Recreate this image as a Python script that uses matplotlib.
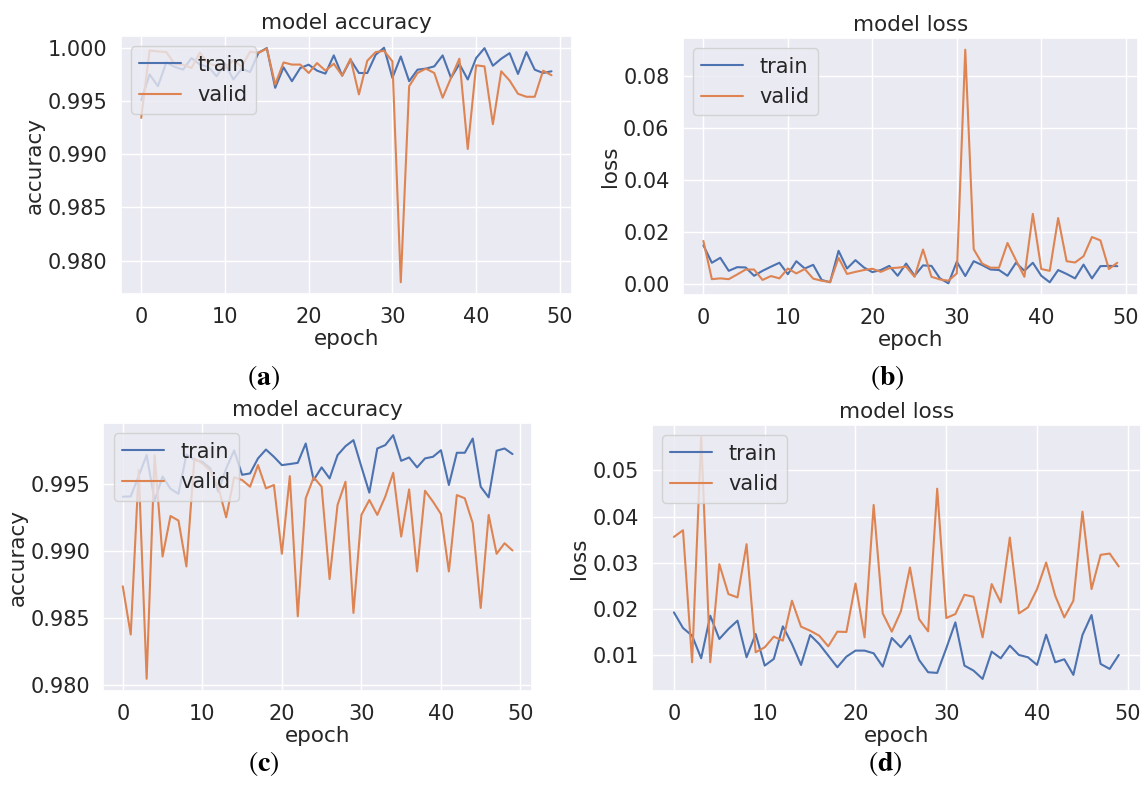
import numpy as np
import matplotlib
matplotlib.use("Agg")
import matplotlib.pyplot as plt
import seaborn as sns

# ---------------- data ----------------
epochs = list(range(50))

acc_a_train = [0.99505, 0.99747, 0.99638, 0.99861, 0.99818, 0.99793, 0.99901, 0.99840, 0.99820, 0.99730,
               0.99850, 0.99700, 0.99800, 0.99770, 0.99950, 0.99995, 0.99622, 0.99814, 0.99684, 0.99808,
               0.99839, 0.99783, 0.99755, 0.99926, 0.99736, 0.99885, 0.99761, 0.99761, 0.99932, 0.99998,
               0.99715, 0.99916, 0.99684, 0.99792, 0.99802, 0.99823, 0.99926, 0.99715, 0.99845, 0.99700,
               0.99901, 0.99994, 0.99829, 0.99895, 0.99947, 0.99752, 0.99957, 0.99792, 0.99761, 0.99777]
acc_a_valid = [0.99340, 0.99972, 0.99963, 0.99957, 0.99845, 0.99840, 0.99808, 0.99950, 0.99850, 0.99830,
               0.99810, 0.99880, 0.99820, 0.99960, 0.99950, 0.99990, 0.99653, 0.99860, 0.99840, 0.99840,
               0.99761, 0.99854, 0.99783, 0.99848, 0.99736, 0.99895, 0.99560, 0.99876, 0.99957, 0.99969,
               0.99870, 0.97798, 0.99637, 0.99761, 0.99802, 0.99761, 0.99529, 0.99715, 0.99895, 0.99048,
               0.99833, 0.99823, 0.99281, 0.99777, 0.99690, 0.99566, 0.99538, 0.99538, 0.99783, 0.99740]

loss_b_train = [0.0150, 0.0083, 0.0102, 0.0052, 0.0066, 0.0065, 0.0033, 0.0052, 0.0068, 0.0083,
                0.0039, 0.0089, 0.0061, 0.0075, 0.0017, 0.0008, 0.0129, 0.0061, 0.0093, 0.0065,
                0.0047, 0.0055, 0.0071, 0.0033, 0.0080, 0.0033, 0.0073, 0.0071, 0.0023, 0.0004,
                0.0087, 0.0032, 0.0089, 0.0074, 0.0057, 0.0055, 0.0033, 0.0083, 0.0052, 0.0083,
                0.0033, 0.0008, 0.0055, 0.0040, 0.0023, 0.0076, 0.0023, 0.0070, 0.0071, 0.0070]
loss_b_valid = [0.0167, 0.0020, 0.0023, 0.0020, 0.0038, 0.0057, 0.0057, 0.0017, 0.0032, 0.0023,
                0.0061, 0.0042, 0.0059, 0.0022, 0.0014, 0.0009, 0.0102, 0.0040, 0.0048, 0.0055,
                0.0060, 0.0048, 0.0062, 0.0064, 0.0068, 0.0029, 0.0134, 0.0029, 0.0019, 0.0014,
                0.0042, 0.0902, 0.0135, 0.0080, 0.0064, 0.0064, 0.0159, 0.0093, 0.0029, 0.0271,
                0.0059, 0.0052, 0.0255, 0.0089, 0.0084, 0.0108, 0.0182, 0.0169, 0.0059, 0.0083]

acc_c_train = [0.99406, 0.99408, 0.99560, 0.99716, 0.99375, 0.99556, 0.99465, 0.99427, 0.99720, 0.99680,
               0.99666, 0.99616, 0.99443, 0.99616, 0.99750, 0.99569, 0.99579, 0.99691, 0.99757, 0.99703,
               0.99641, 0.99649, 0.99658, 0.99802, 0.99530, 0.99624, 0.99542, 0.99715, 0.99782, 0.99827,
               0.99629, 0.99436, 0.99765, 0.99790, 0.99864, 0.99673, 0.99698, 0.99624, 0.99691, 0.99703,
               0.99752, 0.99493, 0.99733, 0.99733, 0.99839, 0.99480, 0.99401, 0.99748, 0.99765, 0.99723]
acc_c_valid = [0.98738, 0.98379, 0.99604, 0.98049, 0.99715, 0.98960, 0.99262, 0.99228, 0.98886, 0.99690,
               0.99653, 0.99600, 0.99480, 0.99252, 0.99550, 0.99530, 0.99480, 0.99641, 0.99468, 0.99493,
               0.98980, 0.99559, 0.98515, 0.99394, 0.99550, 0.99480, 0.98792, 0.99344, 0.99517, 0.98540,
               0.99270, 0.99381, 0.99270, 0.99406, 0.99584, 0.99109, 0.99460, 0.98849, 0.99450, 0.99369,
               0.99277, 0.98849, 0.99418, 0.99394, 0.99208, 0.98577, 0.99270, 0.98980, 0.99059, 0.99005]

loss_d_train = [0.01928, 0.01590, 0.01424, 0.00935, 0.01856, 0.01353, 0.01568, 0.01748, 0.00957, 0.01460,
                0.00777, 0.00921, 0.01626, 0.01245, 0.00791, 0.01439, 0.01245, 0.00993, 0.00741, 0.00971,
                0.01101, 0.01101, 0.01043, 0.00755, 0.01374, 0.01173, 0.01424, 0.00899, 0.00633, 0.00619,
                0.01151, 0.01712, 0.00777, 0.00669, 0.00489, 0.01079, 0.00935, 0.01209, 0.01007, 0.00957,
                0.00791, 0.01446, 0.00849, 0.00914, 0.00576, 0.01439, 0.01871, 0.00813, 0.00705, 0.01007]
loss_d_valid = [0.03561, 0.03705, 0.00849, 0.05720, 0.00849, 0.02971, 0.02324, 0.02252, 0.03403, 0.01065,
                0.01173, 0.01403, 0.01317, 0.02180, 0.01619, 0.01532, 0.01424, 0.01194, 0.01511, 0.01504,
                0.02554, 0.01388, 0.04252, 0.01906, 0.01511, 0.01950, 0.02899, 0.01784, 0.01518, 0.04604,
                0.01806, 0.01892, 0.02309, 0.02266, 0.01388, 0.02540, 0.02144, 0.03547, 0.01906, 0.02036,
                0.02432, 0.03007, 0.02288, 0.01820, 0.02180, 0.04108, 0.02432, 0.03173, 0.03201, 0.02921]

series_labels = ["train", "valid"]
captions = ["a", "b", "c", "d"]

# ---------------- style ----------------
sns.set_theme(style="darkgrid", palette="deep")
plt.rcParams["font.family"] = ["DejaVu Sans"]
plt.rcParams["mathtext.fontset"] = "stix"
FS = 15
TFS = 15.5

fig = plt.figure(figsize=(11.42, 7.92), dpi=100)
W, H = 1142.0, 792.0


def axes_px(left, right, top, bottom):
    return fig.add_axes([left / W, 1 - bottom / H, (right - left) / W, (bottom - top) / H])


panels = [
    (axes_px(120.7, 572, 36, 294), acc_a_train, acc_a_valid, "model accuracy", "accuracy"),
    (axes_px(682.7, 1138, 38, 295), loss_b_train, loss_b_valid, "model loss", "loss"),
    (axes_px(103.3, 532, 423, 691), acc_c_train, acc_c_valid, "model accuracy", "accuracy"),
    (axes_px(651.7, 1141, 425, 691), loss_d_train, loss_d_valid, "model loss", "loss"),
]

blue, orange = sns.color_palette("deep")[0], sns.color_palette("deep")[1]

for ax, tr, va, title, ylab in panels:
    ax.plot(epochs, tr, color=blue, lw=1.5, label=series_labels[0])
    ax.plot(epochs, va, color=orange, lw=1.5, label=series_labels[1])
    ax.set_title(title, fontsize=TFS, color=".15", pad=5)
    ax.set_xlabel("epoch", fontsize=TFS, color=".15", labelpad=1)
    ax.set_ylabel(ylab, fontsize=TFS, color=".15", labelpad=2)
    ax.tick_params(labelsize=FS, colors=".15")
    ax.set_xticks([0, 10, 20, 30, 40, 50])
    ax.legend(loc="upper left", fontsize=FS, framealpha=0.8)

# formatters
panels[0][0].yaxis.set_major_formatter(matplotlib.ticker.FormatStrFormatter("%.3f"))
panels[2][0].yaxis.set_major_formatter(matplotlib.ticker.FormatStrFormatter("%.3f"))
panels[1][0].yaxis.set_major_formatter(matplotlib.ticker.FormatStrFormatter("%.2f"))
panels[3][0].yaxis.set_major_formatter(matplotlib.ticker.FormatStrFormatter("%.2f"))

cap_pos = [(263, 378), (887, 378), (264, 763), (885, 763)]
for c, (x, y) in zip(captions, cap_pos):
    fig.text(x / W, 1 - y / H, r"($\mathbf{%s}$)" % c, fontsize=20, ha="center", va="center",
             family="STIXGeneral", color="black")

fig.savefig("out.png", dpi=100, facecolor="white")
